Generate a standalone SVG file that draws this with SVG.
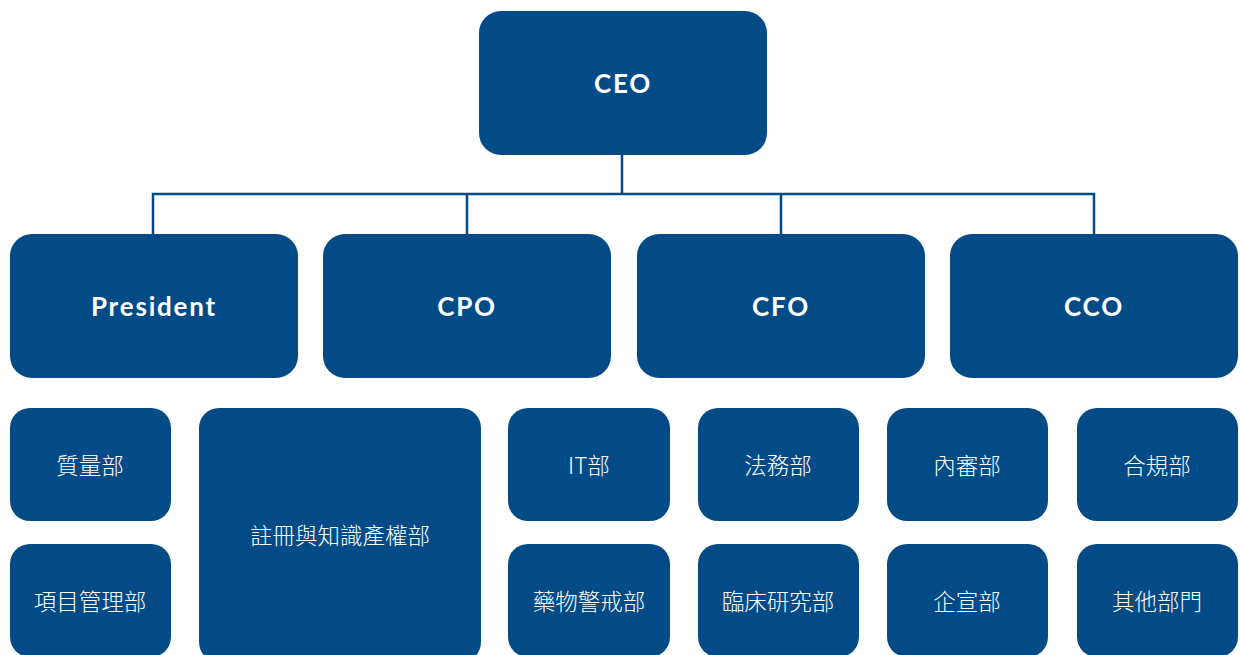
<svg xmlns="http://www.w3.org/2000/svg" width="1240" height="655" viewBox="0 0 1240 655">
<style>
.box{fill:#034b87;}
.t1{fill:#ffffff;font-family:Lato,"Noto Sans",sans-serif;font-weight:700;font-size:26px;letter-spacing:1.8px;text-anchor:middle;dominant-baseline:central;}
.t2{fill:#ffffff;font-family:"Noto Sans CJK TC","Noto Sans",sans-serif;font-weight:300;font-size:22.5px;text-anchor:middle;dominant-baseline:central;}
.conn{fill:none;stroke:#034b87;stroke-width:2.5;}
</style>
<rect width="1240" height="655" fill="#ffffff"/>
<g id="connectors">
<path class="conn" d="M622 155 V194 M153 234 V194 H1094 V234 M467 194 V234 M781 194 V234"/>
</g>
<g id="ceo"><rect class="box" x="479" y="11" width="288" height="144" rx="22"/><text class="t1" x="623" y="83">CEO</text></g>
<g id="president"><rect class="box" x="10" y="234" width="288" height="144" rx="22"/><text class="t1" x="154" y="306">President</text></g>
<g id="cpo"><rect class="box" x="323" y="234" width="288" height="144" rx="22"/><text class="t1" x="467" y="306">CPO</text></g>
<g id="cfo"><rect class="box" x="637" y="234" width="288" height="144" rx="22"/><text class="t1" x="781" y="306">CFO</text></g>
<g id="cco"><rect class="box" x="950" y="234" width="288" height="144" rx="22"/><text class="t1" x="1094" y="306">CCO</text></g>
<g id="quality"><rect class="box" x="10" y="408" width="161" height="113" rx="20"/><text class="t2" x="90" y="463.5">質量部</text></g>
<g id="project"><rect class="box" x="10" y="544" width="161" height="113" rx="20"/><text class="t2" x="90" y="600">項目管理部</text></g>
<g id="registration"><rect class="box" x="199" y="408" width="282" height="254" rx="20"/><text class="t2" x="340" y="534">註冊與知識產權部</text></g>
<g id="it"><rect class="box" x="508" y="408" width="162" height="113" rx="20"/><text class="t2" x="589" y="463.5">IT部</text></g>
<g id="pv"><rect class="box" x="508" y="544" width="162" height="113" rx="20"/><text class="t2" x="589" y="600">藥物警戒部</text></g>
<g id="legal"><rect class="box" x="698" y="408" width="161" height="113" rx="20"/><text class="t2" x="778" y="463.5">法務部</text></g>
<g id="clinical"><rect class="box" x="698" y="544" width="161" height="113" rx="20"/><text class="t2" x="778" y="600">臨床研究部</text></g>
<g id="audit"><rect class="box" x="887" y="408" width="161" height="113" rx="20"/><text class="t2" x="967" y="463.5">內審部</text></g>
<g id="pr"><rect class="box" x="887" y="544" width="161" height="113" rx="20"/><text class="t2" x="967" y="600">企宣部</text></g>
<g id="compliance"><rect class="box" x="1077" y="408" width="161" height="113" rx="20"/><text class="t2" x="1157" y="463.5">合規部</text></g>
<g id="other"><rect class="box" x="1077" y="544" width="161" height="113" rx="20"/><text class="t2" x="1157" y="600">其他部門</text></g>
</svg>
